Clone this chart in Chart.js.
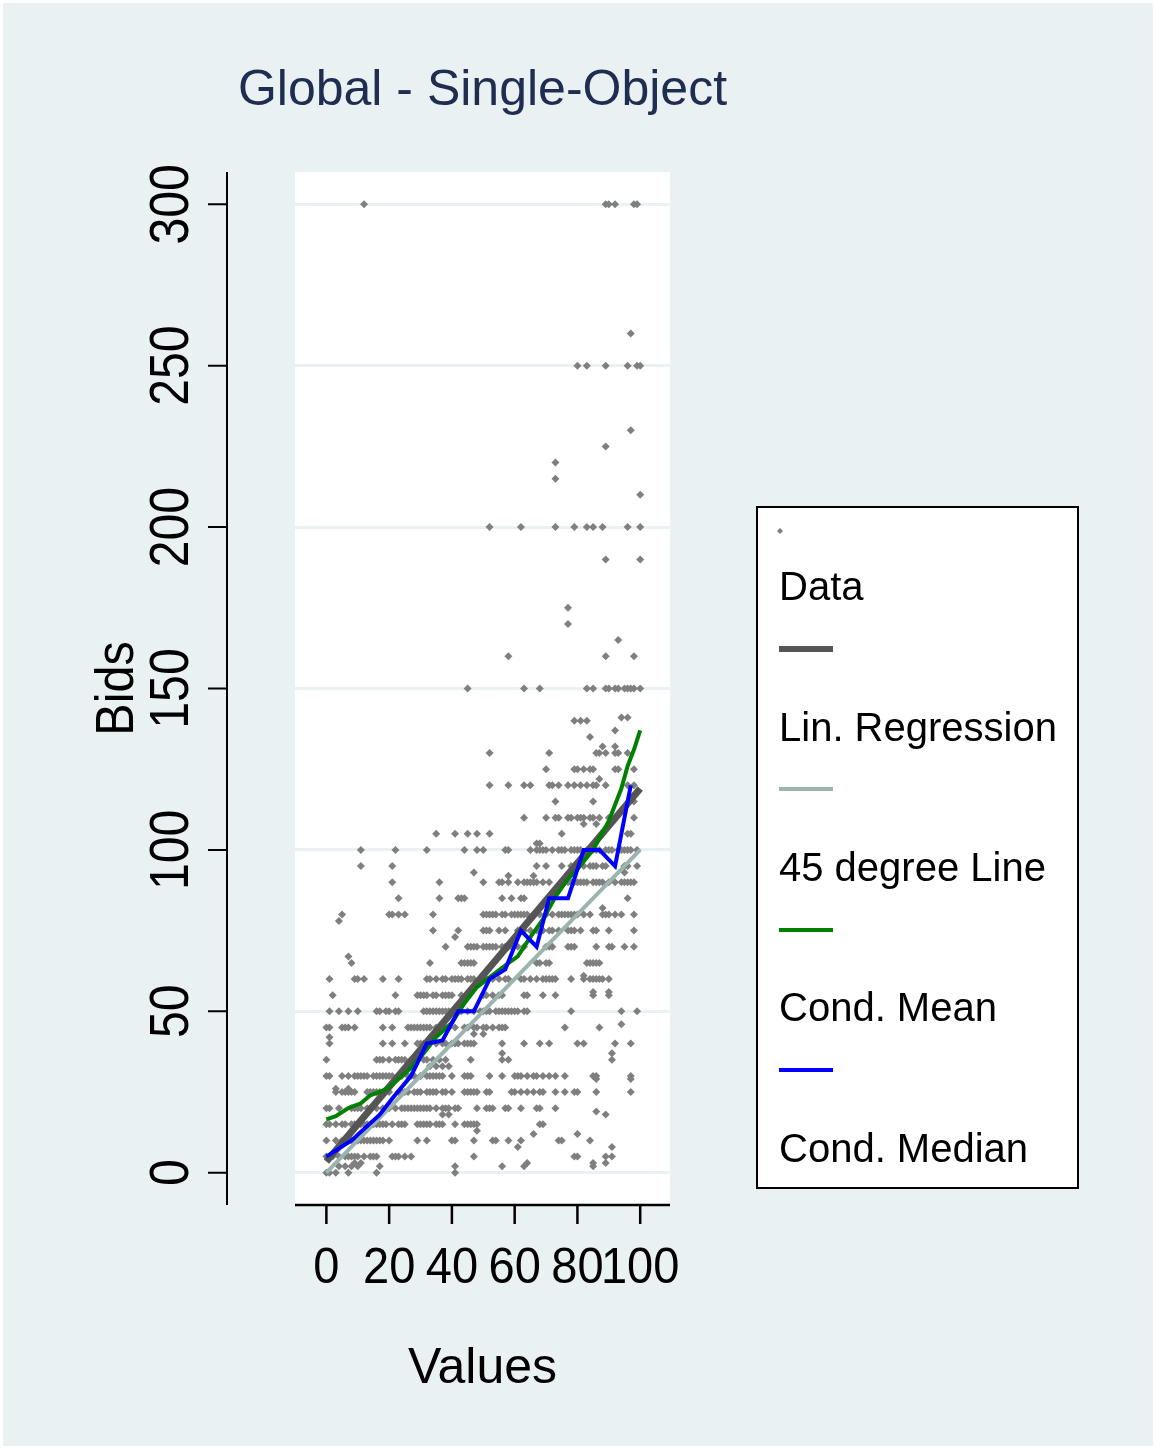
<!DOCTYPE html>
<html>
<head>
<meta charset="utf-8">
<title>Global - Single-Object</title>
<script src="https://cdn.jsdelivr.net/npm/chart.js@4.4.1/dist/chart.umd.min.js"></script>
<style>
    html, body { margin: 0; padding: 0; background: #ffffff; }
    #chart { display: block; }
</style>
</head>
<body>
<canvas id="chart" width="1156" height="1449"></canvas>
<script>
// 텍스트 / 눈금
const TITLE = 'Global - Single-Object';
const X_TITLE = 'Values';
const Y_TITLE = 'Bids';
const X_TICKS = [0, 20, 40, 60, 80, 100];
const Y_TICKS = [0, 50, 100, 150, 200, 250, 300];
const LEGEND_LABELS = ['Data', 'Lin. Regression', '45 degree Line', 'Cond. Mean', 'Cond. Median'];

// 입찰 데이터: [bid, [values...]] 
const BIDS_BY_AMOUNT = [
    [300, [12, 89, 90, 92, 98, 99]],
    [260, [97]],
    [250, [80, 83, 89, 96, 99, 100]],
    [230, [97]],
    [225, [89]],
    [220, [73]],
    [215, [73]],
    [210, [100]],
    [200, [52, 62, 73, 79, 83, 85, 88, 96, 100]],
    [190, [89, 100]],
    [175, [77]],
    [170, [77]],
    [165, [93]],
    [160, [58, 89, 98]],
    [150, [45, 63, 68, 83, 85, 89, 90, 92, 93, 95, 96, 97, 98, 100]],
    [141, [94, 96]],
    [140, [79, 81, 83]],
    [137, [92]],
    [135, [84]],
    [132, [88, 92]],
    [130, [52, 71, 86, 87, 89, 92, 93, 96]],
    [125, [70, 79, 80, 82, 84, 85, 92, 93, 98]],
    [122, [87]],
    [120, [52, 58, 63, 65, 71, 72, 74, 77, 79, 81, 83, 85, 86, 89, 96, 98]],
    [115, [73, 85, 98]],
    [110, [63, 70, 73, 74, 77, 78, 80, 81, 82, 84, 85, 87, 90, 98]],
    [108, [82, 86]],
    [105, [35, 41, 45, 48, 52, 75, 96, 97]],
    [102, [67, 68]],
    [100, [11, 22, 32, 44, 48, 50, 57, 58, 65, 67, 68, 69, 70, 72, 74, 75, 76, 78, 79, 80, 81, 83, 84, 85, 86, 87, 89, 90, 91, 93, 94, 95, 96, 97, 99]],
    [95, [11, 21, 67, 70, 75, 78, 79, 82, 84, 85, 86, 88, 89, 95, 96, 99]],
    [93, [47, 95]],
    [92, [58, 66]],
    [90, [21, 36, 50, 55, 56, 58, 61, 63, 64, 65, 66, 67, 69, 71, 76, 77, 78, 79, 80, 81, 82, 83, 85, 86, 87, 88, 90, 92, 94, 95, 96, 97, 98]],
    [85, [23, 36, 42, 43, 44, 56, 59, 62, 63, 96]],
    [82, [88]],
    [80, [5, 20, 21, 23, 25, 34, 50, 51, 52, 53, 54, 56, 57, 59, 60, 61, 62, 63, 64, 66, 68, 70, 72, 74, 75, 76, 77, 78, 79, 80, 82, 84, 88, 89, 90, 92, 94, 98]],
    [78, [4]],
    [75, [34, 42, 50, 51, 52, 55, 57, 61, 63, 65, 67, 69, 71, 72, 74, 77, 78, 79, 81, 85, 86, 90, 98]],
    [73, [41]],
    [70, [38, 45, 46, 47, 48, 50, 51, 52, 53, 54, 56, 57, 58, 59, 61, 63, 70, 71, 72, 77, 78, 79, 86, 90, 91, 95, 98]],
    [67, [7]],
    [65, [8, 33, 43, 44, 45, 46, 47, 67, 68, 70, 71, 83, 84, 85, 86, 87]],
    [61, [82]],
    [60, [1, 9, 10, 12, 18, 23, 32, 33, 35, 37, 38, 40, 41, 42, 43, 45, 46, 47, 50, 51, 53, 55, 57, 58, 62, 63, 65, 67, 69, 70, 71, 72, 73, 78, 82, 84, 85, 86, 87, 88, 90]],
    [56, [85, 90]],
    [55, [2, 22, 29, 30, 31, 32, 34, 35, 37, 38, 39, 40, 43, 50, 51, 53, 55, 56, 63, 64, 69, 73, 85, 90]],
    [50, [1, 4, 7, 10, 16, 17, 19, 20, 22, 23, 31, 32, 33, 34, 35, 36, 37, 38, 39, 40, 42, 43, 45, 47, 49, 50, 51, 52, 54, 55, 56, 57, 58, 59, 60, 61, 63, 64, 78, 94, 99]],
    [46, [94]],
    [45, [0, 1, 5, 6, 7, 9, 18, 21, 26, 27, 28, 29, 30, 31, 32, 33, 35, 38, 39, 41, 44, 45, 47, 48, 50, 51, 53, 55, 56, 57, 76, 87]],
    [43, [47, 50]],
    [42, [1]],
    [40, [1, 18, 21, 25, 29, 30, 31, 32, 33, 35, 37, 38, 40, 41, 42, 44, 45, 46, 47, 56, 63, 68, 71, 80, 82, 92, 97]],
    [37, [56, 91]],
    [35, [0, 16, 17, 18, 20, 22, 23, 24, 25, 27, 31, 32, 34, 36, 38, 46, 56, 58, 91]],
    [33, [33, 35, 37, 39]],
    [30, [0, 1, 5, 7, 9, 10, 11, 12, 13, 15, 16, 17, 18, 19, 20, 21, 24, 26, 27, 28, 30, 32, 33, 34, 35, 36, 37, 40, 44, 45, 46, 52, 56, 60, 61, 62, 64, 66, 67, 69, 71, 73, 76, 85, 86, 97]],
    [29, [86, 97]],
    [26, [3, 7]],
    [25, [3, 5, 6, 7, 8, 9, 13, 14, 15, 16, 17, 20, 23, 24, 25, 26, 28, 29, 30, 32, 33, 34, 35, 37, 38, 40, 44, 45, 46, 47, 48, 51, 52, 59, 60, 62, 64, 66, 68, 69, 73, 76, 79, 80, 86, 97]],
    [20, [0, 1, 4, 8, 9, 10, 11, 13, 14, 16, 18, 20, 22, 24, 25, 26, 27, 28, 29, 30, 31, 32, 33, 35, 37, 38, 39, 41, 42, 48, 51, 52, 53, 57, 58, 62, 67, 68, 73]],
    [19, [86]],
    [18, [37, 39, 89]],
    [15, [0, 1, 3, 5, 6, 8, 9, 10, 11, 12, 13, 15, 16, 17, 18, 19, 21, 23, 24, 25, 29, 30, 31, 32, 33, 35, 36, 37, 41, 44, 45, 46, 47, 48, 68, 69]],
    [13, [48]],
    [12, [66, 80]],
    [10, [0, 3, 5, 7, 8, 9, 10, 11, 12, 13, 14, 15, 16, 17, 18, 20, 29, 32, 40, 41, 47, 53, 54, 58, 62, 74, 75, 84]],
    [8, [61, 91]],
    [5, [0, 1, 2, 4, 6, 7, 8, 9, 10, 12, 14, 15, 16, 21, 22, 23, 25, 27, 47, 79, 80, 89, 91]],
    [3, [9, 11, 64, 85, 89]],
    [2, [4, 6, 8, 10, 17, 41, 56, 63, 85]],
    [0, [0, 1, 3, 7, 16, 41]],
];

// 선형 회귀선
const REG_X = [0, 100];
const REG_Y = [3.5, 119];

// 45도 선
const DIAG_X = [0, 100];
const DIAG_Y = [0, 100];

// 조건부 평균
const MEAN_X = [0, 3, 7, 11, 14, 17, 20, 23, 27, 31, 35, 40, 44, 48, 52, 56, 61, 65, 69, 73, 77, 80, 85, 90, 94, 96, 98, 99, 100];
const MEAN_Y = [16.5, 17.5, 20, 21.5, 24, 25, 26.5, 29, 32.5, 37, 42, 46.5, 52.5, 57.5, 60.5, 63.5, 67, 73, 78.5, 85.5, 91, 94, 100, 109, 119, 126, 131, 134, 137];

// 조건부 중앙값
const MEDIAN_X = [0, 8, 17, 21, 27, 32, 37, 42, 47, 52, 57, 62, 67, 71, 77, 82, 87, 92, 97];
const MEDIAN_Y = [5, 10, 18, 23, 30, 40, 41, 50, 50, 60, 63, 75, 70, 85, 85, 100, 100, 95, 120];

const COLORS = {
    background: '#e9f1f3',
    grid: '#e9f1f3',
    title: '#1f2d50',
    text: '#000000',
    data: '#7f7f7f',
    regression: '#555555',
    diagonal: '#9ab5b0',
    mean: '#008000',
    median: '#0000ff',
};

const FONT = "'Liberation Sans', Arial, sans-serif";

const toPoints = (xs, ys) => xs.map((x, i) => ({ x: x, y: ys[i] }));

const scatterPoints = [];
BIDS_BY_AMOUNT.forEach(([bid, values]) => {
    values.forEach(v => scatterPoints.push({ x: v, y: bid }));
});

/**
 * Stata 스타일 프레임: 배경, 축, 라벨, 범례
 */
const stataFrame = {
    id: 'stataFrame',
    beforeDraw(chart) {
        const { ctx, chartArea: a } = chart;
        ctx.save();
        ctx.fillStyle = '#ffffff';
        ctx.fillRect(0, 0, chart.width, chart.height);
        ctx.fillStyle = COLORS.background;
        ctx.fillRect(3, 3, chart.width - 6, chart.height - 6);
        ctx.fillStyle = '#ffffff';
        ctx.fillRect(a.left, a.top, a.right - a.left, a.bottom - a.top);
        ctx.restore();
    },
    afterDraw(chart) {
        const { ctx, chartArea: a } = chart;
        const xs = chart.scales.x;
        const ys = chart.scales.y;
        const midX = (a.left + a.right) / 2;

        ctx.save();
        ctx.strokeStyle = COLORS.text;
        ctx.fillStyle = COLORS.text;

        // y 축 (플롯 영역에서 떨어져 있음)
        const axisX = a.left - 68;
        ctx.lineWidth = 2;
        ctx.beginPath();
        ctx.moveTo(axisX, a.top);
        ctx.lineTo(axisX, a.bottom);
        Y_TICKS.forEach(v => {
            const py = ys.getPixelForValue(v);
            ctx.moveTo(axisX - 19, py);
            ctx.lineTo(axisX, py);
        });
        ctx.stroke();

        ctx.font = '56px ' + FONT;
        ctx.textAlign = 'center';
        ctx.textBaseline = 'alphabetic';
        Y_TICKS.forEach(v => {
            const py = ys.getPixelForValue(v);
            ctx.save();
            ctx.translate(axisX - 39, py);
            ctx.rotate(-Math.PI / 2);
            ctx.scale(0.86, 1);
            ctx.fillText(String(v), 0, 0);
            ctx.restore();
        });

        ctx.save();
        ctx.font = '54px ' + FONT;
        ctx.translate(axisX - 94, (a.top + a.bottom) / 2);
        ctx.rotate(-Math.PI / 2);
        ctx.scale(0.9, 1);
        ctx.fillText(Y_TITLE, 0, 0);
        ctx.restore();

        // x 축
        ctx.lineWidth = 2.5;
        ctx.beginPath();
        ctx.moveTo(a.left, a.bottom);
        ctx.lineTo(a.right, a.bottom);
        X_TICKS.forEach(v => {
            const px = xs.getPixelForValue(v);
            ctx.moveTo(px, a.bottom);
            ctx.lineTo(px, a.bottom + 19);
        });
        ctx.stroke();

        ctx.font = '50px ' + FONT;
        X_TICKS.forEach(v => {
            ctx.save();
            ctx.translate(xs.getPixelForValue(v), a.bottom + 78);
            ctx.scale(0.94, 1);
            ctx.fillText(String(v), 0, 0);
            ctx.restore();
        });
        ctx.fillText(X_TITLE, midX, a.bottom + 178);

        // 제목
        ctx.fillStyle = COLORS.title;
        ctx.fillText(TITLE, midX, 105);

        // 범례
        const box = { left: 757, top: 507, width: 321, height: 681 };
        ctx.fillStyle = '#ffffff';
        ctx.fillRect(box.left, box.top, box.width, box.height);
        ctx.strokeStyle = COLORS.text;
        ctx.lineWidth = 2;
        ctx.strokeRect(box.left, box.top, box.width, box.height);

        const lx = box.left + 22;
        ctx.fillStyle = COLORS.data;
        ctx.beginPath();
        ctx.moveTo(lx + 1, 528);
        ctx.lineTo(lx + 4, 531);
        ctx.lineTo(lx + 1, 534);
        ctx.lineTo(lx - 2, 531);
        ctx.closePath();
        ctx.fill();

        const legendLines = [
            { y: 649, color: COLORS.regression, width: 6 },
            { y: 789, color: COLORS.diagonal, width: 4 },
            { y: 930, color: COLORS.mean, width: 4 },
            { y: 1070, color: COLORS.median, width: 4 },
        ];
        legendLines.forEach(l => {
            ctx.strokeStyle = l.color;
            ctx.lineWidth = l.width;
            ctx.beginPath();
            ctx.moveTo(lx, l.y);
            ctx.lineTo(lx + 54, l.y);
            ctx.stroke();
        });

        const labelBaselines = [600, 741, 881, 1021, 1162];
        ctx.fillStyle = COLORS.text;
        ctx.font = '40px ' + FONT;
        ctx.textAlign = 'left';
        LEGEND_LABELS.forEach((t, i) => ctx.fillText(t, lx, labelBaselines[i]));

        ctx.restore();
    },
};

const lineDataset = (label, xs, ys, color, width, order) => ({
    label: label,
    data: toPoints(xs, ys),
    showLine: true,
    borderColor: color,
    borderWidth: width,
    pointRadius: 0,
    tension: 0,
    order: order,
});

const ctx = document.getElementById('chart').getContext('2d');
new Chart(ctx, {
    type: 'scatter',
    data: {
        datasets: [
            {
                label: LEGEND_LABELS[0],
                data: scatterPoints,
                pointStyle: 'rectRot',
                pointRadius: 4,
                backgroundColor: COLORS.data,
                borderWidth: 0,
                order: 5,
            },
            lineDataset(LEGEND_LABELS[1], REG_X, REG_Y, COLORS.regression, 7, 4),
            lineDataset(LEGEND_LABELS[2], DIAG_X, DIAG_Y, COLORS.diagonal, 4, 3),
            lineDataset(LEGEND_LABELS[3], MEAN_X, MEAN_Y, COLORS.mean, 4, 2),
            lineDataset(LEGEND_LABELS[4], MEDIAN_X, MEDIAN_Y, COLORS.median, 4, 1),
        ],
    },
    options: {
        responsive: false,
        animation: false,
        layout: {
            padding: { left: 295, right: 486, top: 172, bottom: 244 },
        },
        plugins: {
            legend: { display: false },
            tooltip: { enabled: false },
        },
        scales: {
            x: {
                type: 'linear',
                min: -10,
                max: 109.5,
                display: false,
            },
            y: {
                type: 'linear',
                min: -10,
                max: 310,
                afterBuildTicks: scale => {
                    scale.ticks = Y_TICKS.map(v => ({ value: v }));
                },
                afterFit: scale => {
                    scale.width = 0;
                },
                ticks: { display: false },
                border: { display: false },
                grid: {
                    color: COLORS.grid,
                    lineWidth: 3,
                    drawTicks: false,
                },
            },
        },
    },
    plugins: [stataFrame],
});
</script>
</body>
</html>
